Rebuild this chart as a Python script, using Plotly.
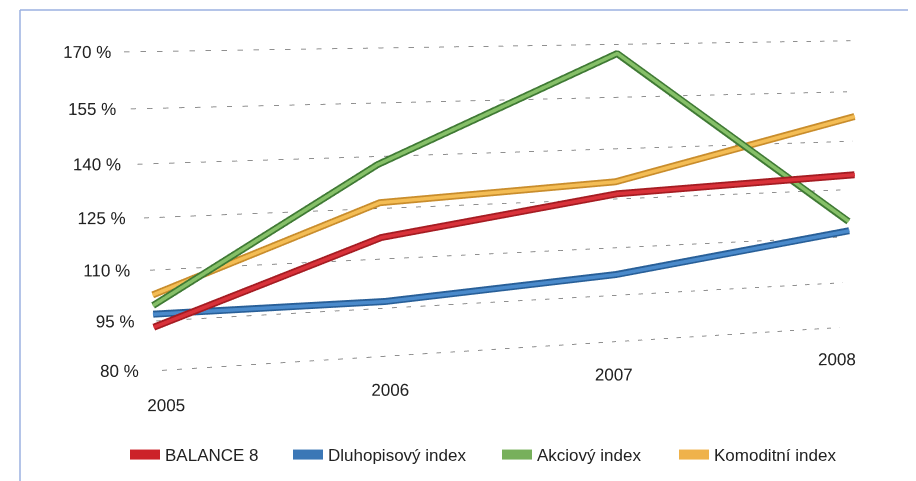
import math
import plotly.graph_objects as go

# ---------------- data ----------------
years = ["2005", "2006", "2007", "2008"]
series_names = ["BALANCE 8", "Dluhopisový index", "Akciový index", "Komoditní index"]
balance8 = [93.7, 116.7, 126.7, 129.7]
dluhopisovy = [97.4, 97.4, 101.9, 112.1]
akciovy = [99.8, 137.7, 167.3, 115.0]
komoditni = [102.8, 126.7, 130.2, 147.5]
y_ticks = [80, 95, 110, 125, 140, 155, 170]
y_tick_labels = ["80 %", "95 %", "110 %", "125 %", "140 %", "155 %", "170 %"]

series_values = [balance8, dluhopisovy, akciovy, komoditni]
edge_colors = ["#a51c22", "#285f98", "#3f7a34", "#c98d2c"]
core_colors = ["#d9323a", "#4a8acb", "#86c068", "#f4bd55"]
legend_colors = ["#cc2229", "#3b77b6", "#77b05b", "#efb24b"]

# ---------------- pseudo-3D view (Excel-like perspective) ----------------
# categories are laid out along a log axis viewed from behind, which evens out
# the perspective foreshortening so the years stay equally spaced on screen
x_base = 16.0
x_pos = [x_base - i for i in range(len(years))]
lo, hi = math.log10(x_pos[-1]), math.log10(x_pos[0])
x_mid, x_half = (lo + hi) / 2, (hi - lo) / 2
x_rng = [x_mid - 1.267 * x_half, x_mid + 1.267 * x_half]   # log10 units

depth_rows = [3, 2, 1, 0]          # series depth (red in front)
wall_depth = -0.3                  # gridline plane, behind the series
y_rng = [-0.5, 3.5]
z_rng = [60, 175]
aspect = dict(x=2.342, y=0.02, z=1.0)

f_px = 580.6
theta = math.radians(9.0)    # pitch (looking down)
psi = math.radians(5.28)     # yaw (looking right)
rho = math.atan(0.0326)      # roll
L = 1.507

# camera looks from +y towards -y
w = (-math.sin(psi) * math.cos(theta), -math.cos(psi) * math.cos(theta), -math.sin(theta))
r0 = (-math.cos(psi), math.sin(psi), 0.0)
u0 = (-math.sin(psi) * math.sin(theta), -math.cos(psi) * math.sin(theta), math.cos(theta))
u = tuple(math.cos(rho) * a + math.sin(rho) * b for a, b in zip(u0, r0))
r = tuple(math.cos(rho) * b - math.sin(rho) * a for a, b in zip(u0, r0))

def norm(v, rng, a):
    return (v - (rng[0] + rng[1]) / 2) / (rng[1] - rng[0]) * a

wall_c = (norm(x_mid, x_rng, aspect["x"]), norm(wall_depth, y_rng, aspect["y"]),
          norm(125, z_rng, aspect["z"]))
shift_r, shift_u = 50 * L / f_px, 45.5 * L / f_px
C = tuple(c - shift_r * a - shift_u * b for c, a, b in zip(wall_c, r, u))
E = tuple(c - L * a for c, a in zip(C, w))

fig = go.Figure()

# gridlines (dashed) on the wall plane
for t in y_ticks:
    fig.add_trace(go.Scatter3d(
        x=[x_pos[0], x_pos[-1]], y=[wall_depth, wall_depth], z=[t, t],
        mode="lines", line=dict(color="#6a6a6a", width=1.5, dash="dash"),
        showlegend=False, hoverinfo="skip"))

# y tick labels (label column leans a little less than the wall edge)
label_x = [x_pos[0] - 0.015 + 0.045 * (y_ticks[-1] - t) / (y_ticks[-1] - y_ticks[0])
           for t in y_ticks]
fig.add_trace(go.Scatter3d(
    x=label_x, y=[wall_depth] * len(y_ticks), z=y_ticks,
    mode="text", text=y_tick_labels, textposition="middle left",
    textfont=dict(family="Liberation Sans", size=17, color="#222222"),
    showlegend=False, hoverinfo="skip"))

# x tick labels
fig.add_trace(go.Scatter3d(
    x=x_pos, y=[wall_depth] * len(years), z=[69.2] * len(years),
    mode="text", text=years, textposition="middle center",
    textfont=dict(family="Liberation Sans", size=17, color="#222222"),
    showlegend=False, hoverinfo="skip"))

# series: dark edge + lighter core (tube look)
legend_ids = ["legend", "legend2", "legend3", "legend4"]
for name, vals, ec, cc, lc, d, lg in zip(series_names, series_values, edge_colors,
                                         core_colors, legend_colors, depth_rows, legend_ids):
    fig.add_trace(go.Scatter3d(
        x=x_pos, y=[d] * len(vals), z=vals, name=name,
        mode="lines", line=dict(color=ec, width=14),
        showlegend=False, hoverinfo="skip"))
    fig.add_trace(go.Scatter3d(
        x=x_pos, y=[d + 0.3] * len(vals), z=vals, name=name,
        mode="lines", line=dict(color=cc, width=7),
        showlegend=False, hoverinfo="skip"))
    # legend entry
    fig.add_trace(go.Scatter3d(
        x=[None], y=[None], z=[None], name=name, legend=lg,
        mode="lines", line=dict(color=lc, width=10),
        showlegend=True, hoverinfo="skip"))

axis_common = dict(visible=False, showgrid=False, zeroline=False,
                   showbackground=False, showspikes=False)

legend_x_px = [117, 280, 489, 666]
leg_y = 1 - 447 / 481
legend_layouts = {}
for lg, xp in zip(legend_ids, legend_x_px):
    legend_layouts[lg] = dict(x=xp / 916, xanchor="left", y=leg_y, yanchor="middle",
                              orientation="h", font=dict(size=17, color="#222222"),
                              itemwidth=30, bgcolor="rgba(0,0,0,0)")

fig.update_layout(
    width=916, height=481,
    margin=dict(l=0, r=0, t=0, b=0),
    paper_bgcolor="white",
    font=dict(family="Liberation Sans", size=17, color="#222222"),
    scene=dict(
        domain=dict(x=[0, 1], y=[0, 1]),
        xaxis=dict(type="log", range=x_rng, **axis_common),
        yaxis=dict(range=y_rng, **axis_common),
        zaxis=dict(range=z_rng, **axis_common),
        aspectmode="manual", aspectratio=aspect,
        camera=dict(eye=dict(x=E[0], y=E[1], z=E[2]),
                    center=dict(x=C[0], y=C[1], z=C[2]),
                    up=dict(x=u[0], y=u[1], z=u[2]),
                    projection=dict(type="perspective")),
        bgcolor="white",
    ),
    shapes=[
        dict(type="line", xref="paper", yref="paper", x0=12/916, x1=12/916, y0=0, y1=1-2/481,
             line=dict(color="#9bb0e0", width=1.5)),
        dict(type="line", xref="paper", yref="paper", x0=12/916, x1=1, y0=1-2/481, y1=1-2/481,
             line=dict(color="#9bb0e0", width=1.5)),
    ],
    **legend_layouts,
)

fig.write_html("out.html")
